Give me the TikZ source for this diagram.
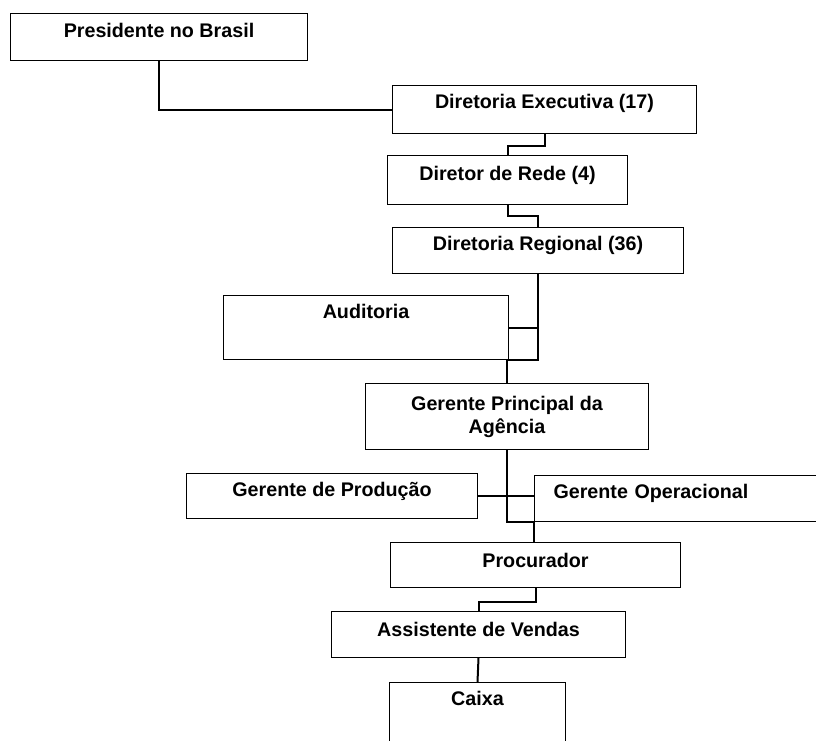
\documentclass[tikz,border=0pt]{standalone}
\usepackage{fontspec}
\setmainfont{Liberation Sans}
\usetikzlibrary{calc}
\begin{document}
\begin{tikzpicture}[x=1pt,y=-1pt,
  box/.style={draw, line width=1pt, inner sep=0pt, anchor=north west,
    font=\bfseries\fontsize{19.7}{23}\selectfont},
  conn/.style={line width=2pt}]
\clip (0,0) rectangle (816,740);
\fill[white] (0,0) rectangle (816,740);

% organisation boxes (text baseline set by text height)
\node[box, minimum width=297pt, text height=24pt, text depth=23pt] (pres) at (10,13) {Presidente no Brasil};
\node[box, minimum width=304pt, text height=23pt, text depth=25pt] (exec) at (392,85) {Diretoria Executiva (17)};
\node[box, minimum width=240pt, text height=25pt, text depth=24pt] (rede) at (387,155) {Diretor de Rede (4)};
\node[box, minimum width=291pt, text height=23pt, text depth=23pt] (reg) at (392,227) {Diretoria Regional (36)};
\node[box, minimum width=285pt, text height=23pt, text depth=41pt] (aud) at (223,295) {Auditoria};
\node[box, minimum width=283pt, text height=27pt, text depth=39pt] (gp) at (365,383)
  {\begin{tabular}[t]{@{}c@{}}Gerente Principal da\\Agência\end{tabular}};
\node[box, minimum width=291pt, text height=23pt, text depth=22pt] (prod) at (186,473) {Gerente de Produção};
\node[box, text width=281pt, inner xsep=19pt, align=left, text height=23pt, text depth=23pt] (oper) at (534,475) {Gerente Operacional};
\node[box, minimum width=290pt, text height=25pt, text depth=20pt] (proc) at (390,542) {Procurador};
\node[box, minimum width=294pt, text height=25pt, text depth=21pt] (asst) at (331,611) {Assistente de Vendas};
\node[box, minimum width=176pt, text height=23pt, text depth=57pt] (caixa) at (389,682) {Caixa};

% reporting lines
\draw[conn] (pres.south) |- (exec.west);
\draw[conn] (exec.south) -- ++(0,12) -| (rede.north);
\draw[conn] (rede.south) -- ++(0,11) -| (reg.north);
\coordinate (spine) at (reg.south |- aud.south);
\draw[conn] (reg.south) -- (spine) -- (spine -| gp.north) -- (gp.north);
\draw[conn] (aud.east) -- (aud.east -| reg.south);
\coordinate (hub) at (gp.south |- oper.south west);
\draw[conn] (gp.south) -- (hub) -- (oper.south west) -- (oper.south west |- proc.north);
\draw[conn] (prod.east) -- (prod.east -| oper.west);
\draw[conn] (proc.south) -- ++(0,14) -| (asst.north);
\draw[conn] (asst.south) -- (caixa.north);
\end{tikzpicture}
\end{document}
